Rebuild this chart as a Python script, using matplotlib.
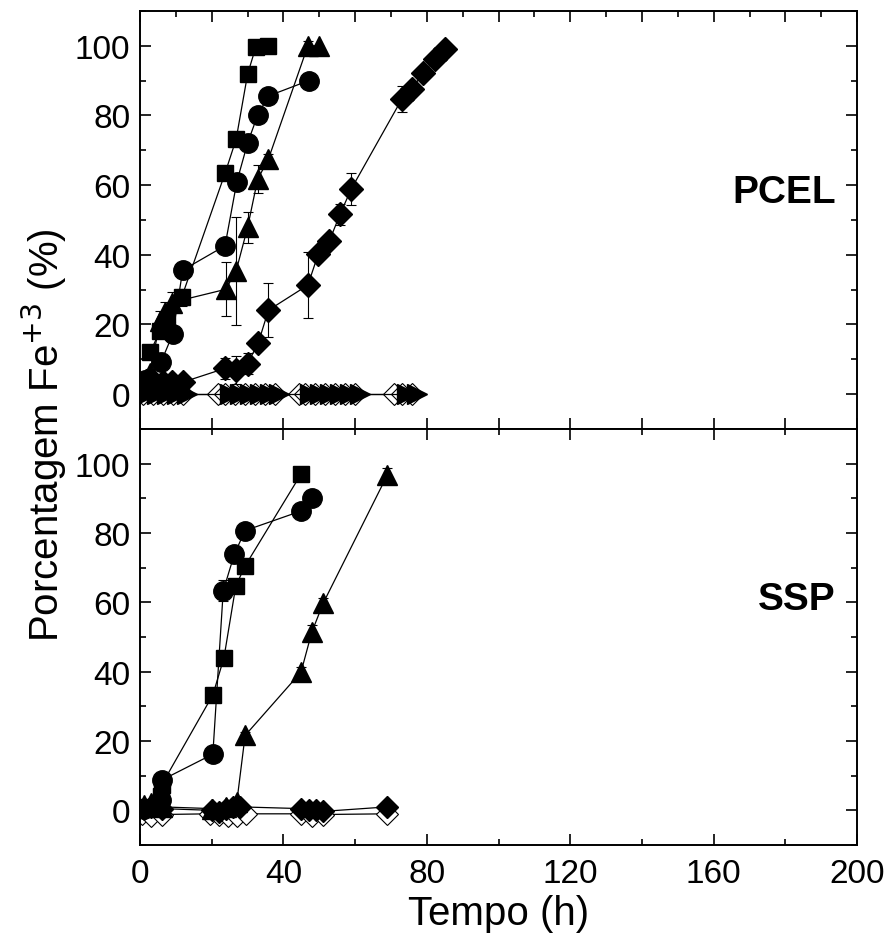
import matplotlib
matplotlib.use('Agg')
import matplotlib.pyplot as plt
from matplotlib.ticker import MultipleLocator

plt.rcParams['font.family'] = ['Liberation Sans', 'DejaVu Sans']

# ---- PCEL (upper panel) ----
sq_t = [2.8, 5.6, 7.4, 11.6, 23.7, 26.8, 30.0, 32.3, 35.8]
sq_y = [12.0, 18.2, 21.0, 27.8, 63.4, 73.2, 91.9, 99.7, 100.0]
sq_e = [1.0, 2.0, 2.0, 2.5, 1.0, 1.0, 1.0, 0.5, 0.0]

ci_t = [1.5, 5.9, 9.1, 11.9, 23.7, 27.0, 30.0, 32.8, 35.8, 47.0]
ci_y = [4.0, 9.3, 17.2, 35.6, 42.6, 61.0, 72.1, 80.1, 85.6, 90.0]
ci_e = [1.0, 1.0, 1.5, 2.0, 1.5, 1.0, 1.0, 1.0, 1.0, 0.5]

tr_t = [2.8, 5.6, 7.0, 8.8, 23.9, 26.8, 30.0, 32.8, 35.8, 46.8, 50.0]
tr_y = [6.2, 21.0, 23.5, 26.3, 30.1, 35.4, 47.9, 61.7, 67.5, 100.0, 100.0]
tr_e = [1.0, 3.0, 3.0, 3.0, 7.8, 15.5, 4.5, 4.0, 1.5, 1.5, 0.0]

di_t = [1.5, 4.0, 6.5, 9.0, 12.1, 23.7, 26.8, 30.0, 33.0, 35.8, 46.8, 49.7,
        52.8, 55.8, 58.9, 73.0, 75.8, 79.0, 82.3, 85.1]
di_y = [3.5, 3.5, 3.5, 3.5, 3.5, 7.4, 7.0, 8.8, 14.8, 24.1, 31.3, 40.2,
        44.0, 51.7, 58.9, 84.7, 87.6, 92.3, 96.2, 99.2]
di_e = [0, 0, 0, 0, 0, 3.0, 4.0, 3.0, 2.0, 7.7, 9.5, 2.0,
        1.0, 3.0, 4.6, 3.8, 1.0, 1.0, 1.0, 0.5]

# controls at zero
ctrl_t = [0.8, 3.6, 6.4, 9.2, 12.0, 21.8, 23.6, 26.4, 29.2, 32.0, 34.8, 37.6,
          44.2, 46.0, 48.8, 51.6, 54.4, 57.2, 60.0, 70.7, 73.0, 75.8]
ctrl_y = [0.0] * len(ctrl_t)
ctrl2_t = [2.0, 4.8, 7.6, 10.4, 13.2, 25.0, 27.8, 30.6, 33.4, 36.2, 38.8,
           47.4, 50.2, 53.0, 55.8, 58.6, 61.4, 74.4, 77.2]
ctrl2_y = [0.0] * len(ctrl2_t)

# ---- SSP (lower panel) ----
sq2_t = [1.0, 5.8, 6.0, 20.3, 23.4, 26.7, 29.3, 44.9]
sq2_y = [1.0, 4.0, 7.3, 33.3, 44.0, 64.7, 70.5, 97.0]

ci2_t = [1.0, 5.9, 6.0, 20.3, 23.2, 26.3, 29.3, 44.8, 47.9]
ci2_y = [0.5, 3.0, 8.7, 16.2, 63.3, 73.9, 80.7, 86.3, 90.1]
ci2_e = [0, 0, 0, 0, 3.0, 1.0, 1.0, 1.0, 1.0]

tr2_t = [1.0, 3.0, 6.0, 20.0, 24.0, 27.0, 29.3, 44.9, 47.9, 51.1, 69.0]
tr2_y = [1.5, 2.0, 1.0, 0.5, 1.0, 2.5, 21.6, 39.9, 51.4, 59.8, 96.8]
tr2_e = [0, 0, 0, 0, 0, 0, 1.0, 1.5, 2.0, 1.5, 2.0]

di2_t = [1.0, 3.0, 6.0, 20.0, 22.0, 24.0, 26.0, 28.0, 45.0, 47.0, 49.0, 51.0, 69.0]
di2_y = [0.5, 1.0, 0.5, 0.0, -0.5, 0.5, 1.0, 1.0, 0.5, 0.0, 0.0, -0.3, 1.0]

ho2_t = [0.5, 3.0, 6.0, 19.5, 22.0, 24.5, 27.0, 29.5, 45.0, 48.0, 51.0, 69.0]
ho2_y = [-1.0, -1.5, -1.2, -1.0, -1.3, -1.5, -1.5, -1.0, -1.0, -1.5, -1.2, -1.0]

fig = plt.figure(figsize=(8.92, 9.37), dpi=100)
ax1 = fig.add_axes([0.157, 0.5411, 0.804, 0.4461])
ax2 = fig.add_axes([0.157, 0.0971, 0.804, 0.4440])

lw = 0.9
eb = dict(color='k', lw=lw, elinewidth=0.8, capsize=3.5, capthick=0.8)

# upper panel
ax1.plot(ctrl_t, ctrl_y, '-', color='k', lw=lw, marker='D', ms=11,
         mfc='white', mec='k', mew=0.8, zorder=2)
ax1.plot(ctrl2_t, ctrl2_y, '-', color='k', lw=lw, marker='>', ms=14,
         mfc='k', mec='k', zorder=2.5)
ax1.errorbar(di_t, di_y, yerr=di_e, marker='D', ms=12, mfc='k', mec='k', zorder=3, **eb)
ax1.errorbar(tr_t, tr_y, yerr=tr_e, marker='^', ms=15, mfc='k', mec='k', zorder=3, **eb)
ax1.errorbar(ci_t, ci_y, yerr=ci_e, marker='o', ms=14, mfc='k', mec='k', zorder=3, **eb)
ax1.errorbar(sq_t, sq_y, yerr=sq_e, marker='s', ms=12, mfc='k', mec='k', zorder=3, **eb)

# lower panel
ax2.plot(ho2_t, ho2_y, '-', color='k', lw=lw, marker='D', ms=11,
         mfc='white', mec='k', mew=0.8, zorder=2)
ax2.plot(di2_t, di2_y, '-', color='k', lw=lw, marker='D', ms=11,
         mfc='k', mec='k', zorder=2.5)
ax2.errorbar(tr2_t, tr2_y, yerr=tr2_e, marker='^', ms=15, mfc='k', mec='k', zorder=3, **eb)
ax2.errorbar(ci2_t, ci2_y, yerr=ci2_e, marker='o', ms=14, mfc='k', mec='k', zorder=3, **eb)
ax2.plot(sq2_t, sq2_y, '-', color='k', lw=lw, marker='s', ms=12, mfc='k', mec='k', zorder=3)

for ax in (ax1, ax2):
    ax.set_xlim(0, 200)
    ax.set_ylim(-10, 110)
    ax.yaxis.set_major_locator(MultipleLocator(20))
    ax.yaxis.set_minor_locator(MultipleLocator(10))
    ax.tick_params(which='both', direction='in', left=True, right=True,
                   top=True, bottom=True, width=1.2)
    ax.tick_params(which='major', length=8, labelsize=24, pad=7)
    ax.tick_params(which='minor', length=4)
    for s in ax.spines.values():
        s.set_linewidth(1.4)

ax1.xaxis.set_major_locator(MultipleLocator(20))
ax1.xaxis.set_minor_locator(MultipleLocator(10))
ax1.tick_params(axis='x', which='minor', bottom=False)
ax1.tick_params(axis='x', labelbottom=False)

ax2.xaxis.set_major_locator(MultipleLocator(40))
ax2.xaxis.set_minor_locator(MultipleLocator(20))
ax2.tick_params(axis='x', pad=9)

ax1.text(194, 58, 'PCEL', ha='right', va='center', fontsize=28, fontweight='bold')
ax2.text(194, 61, 'SSP', ha='right', va='center', fontsize=28, fontweight='bold')

ax2.set_xlabel('Tempo (h)', fontsize=29, labelpad=4)
fig.text(0.05, 0.536, 'Porcentagem Fe$^{+3}$ (%)', rotation=90,
         ha='center', va='center', fontsize=29)

fig.savefig('out.png', dpi=100)
